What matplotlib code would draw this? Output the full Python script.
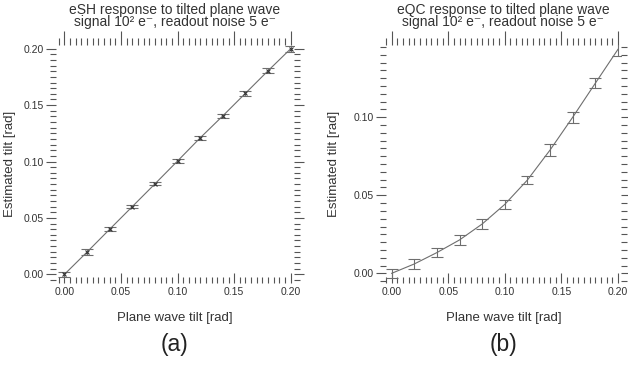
import matplotlib
matplotlib.use("Agg")
import matplotlib.pyplot as plt
from matplotlib.ticker import MultipleLocator, FormatStrFormatter

plt.rcParams['font.family'] = ['Liberation Sans', 'DejaVu Sans']

# data
tilt = [0.00, 0.02, 0.04, 0.06, 0.08, 0.10, 0.12, 0.14, 0.16, 0.18, 0.20]
esh_est = [0.0, 0.0198, 0.0400, 0.0601, 0.0802, 0.1005, 0.1210, 0.1405, 0.1605, 0.1805, 0.2000]
esh_err = [0.0020, 0.0025, 0.0020, 0.0010, 0.0012, 0.0018, 0.0018, 0.0020, 0.0020, 0.0022, 0.0025]
eqc_est = [0.0, 0.0060, 0.0133, 0.0214, 0.0316, 0.0442, 0.0598, 0.0790, 0.1000, 0.1218, 0.1435]
eqc_err = [0.0030, 0.0031, 0.0031, 0.0030, 0.0034, 0.0031, 0.0025, 0.0037, 0.0034, 0.0032, 0.0040]

titles = ["eSH response to tilted plane wave", "eQC response to tilted plane wave"]
subtitle = "signal 10\u00b2 e\u207b, readout noise 5 e\u207b"
xlabel = "Plane wave tilt [rad]"
ylabel = "Estimated tilt [rad]"
panel_tags = ["(a)", "(b)"]

W, H = 628, 369
fig = plt.figure(figsize=(W / 100, H / 100), dpi=100)

tick_col = '#555555'
text_col = '#333333'
line_col = '#6e6e6e'


def make_axes(left, right, top, bottom):
    return fig.add_axes([left / W, 1 - bottom / H, (right - left) / W, (bottom - top) / H])


def style(ax):
    for s in ax.spines.values():
        s.set_visible(False)
    ax.xaxis.set_major_locator(MultipleLocator(0.05))
    ax.xaxis.set_minor_locator(MultipleLocator(0.005))
    ax.yaxis.set_major_locator(MultipleLocator(0.05))
    ax.yaxis.set_minor_locator(MultipleLocator(0.005))
    ax.xaxis.set_major_formatter(FormatStrFormatter('%.2f'))
    ax.yaxis.set_major_formatter(FormatStrFormatter('%.2f'))
    ax.tick_params(axis='x', which='major', direction='in', length=7, width=0.8,
                   color=tick_col, labelsize=7.5, labelcolor=text_col, pad=3)
    ax.tick_params(axis='x', which='minor', direction='in', length=4, width=0.8, color=tick_col)
    ax.tick_params(axis='y', which='major', direction='out', length=7, width=0.8,
                   color=tick_col, labelsize=7.5, labelcolor=text_col, pad=1.5)
    ax.tick_params(axis='y', which='minor', direction='out', length=4, width=0.8, color=tick_col)

    top = ax.secondary_xaxis('top')
    top.xaxis.set_major_locator(MultipleLocator(0.05))
    top.xaxis.set_minor_locator(MultipleLocator(0.005))
    top.tick_params(which='major', direction='out', length=10, width=0.8, color=tick_col, labeltop=False)
    top.tick_params(which='minor', direction='out', length=5, width=0.8, color=tick_col)
    right = ax.secondary_yaxis('right')
    right.yaxis.set_major_locator(MultipleLocator(0.05))
    right.yaxis.set_minor_locator(MultipleLocator(0.005))
    right.tick_params(which='major', direction='out', length=7, width=0.8, color=tick_col, labelright=False)
    right.tick_params(which='minor', direction='out', length=4, width=0.8, color=tick_col)
    for a in (top, right):
        for s in a.spines.values():
            s.set_visible(False)


# (a) eSH
ax1 = make_axes(56, 294, 45, 283)
ax1.errorbar(tilt, esh_est, yerr=esh_err, color=line_col, lw=0.8, elinewidth=0.8,
             capsize=4.3, capthick=0.8, marker='x', ms=2.5, mec='#333333', mew=0.8)
ax1.set_xlim(-0.0075, 0.2029)
ax1.set_ylim(-0.0077, 0.2033)
style(ax1)

# (b) eQC
ax2 = make_axes(386, 621, 45, 283)
ax2.errorbar(tilt, eqc_est, yerr=eqc_err, color=line_col, lw=0.8, elinewidth=0.8,
             capsize=4.3, capthick=0.8)
ax2.set_xlim(-0.005, 0.2027)
ax2.set_ylim(-0.0062, 0.1463)
style(ax2)

for ax, title, tag, ylab_x in [(ax1, titles[0], panel_tags[0], -0.168), (ax2, titles[1], panel_tags[1], -0.196)]:
    cx = (ax.get_position().x0 + ax.get_position().x1) / 2
    fig.text(cx, 1 - 26.3 / H, title + "\n" + subtitle, ha='center', va='baseline',
             fontsize=10, color=text_col, linespacing=0.88, multialignment='center')
    ax.set_xlabel(xlabel, fontsize=9.5, color=text_col)
    ax.xaxis.set_label_coords(0.5, -0.122)
    ax.set_ylabel(ylabel, fontsize=9.5, color=text_col)
    ax.yaxis.set_label_coords(ylab_x, 0.5)
    fig.text(cx, 1 - 344 / H, tag, ha='center', va='center', fontsize=16.5, color='#222222')

fig.savefig("out.png", dpi=100)
